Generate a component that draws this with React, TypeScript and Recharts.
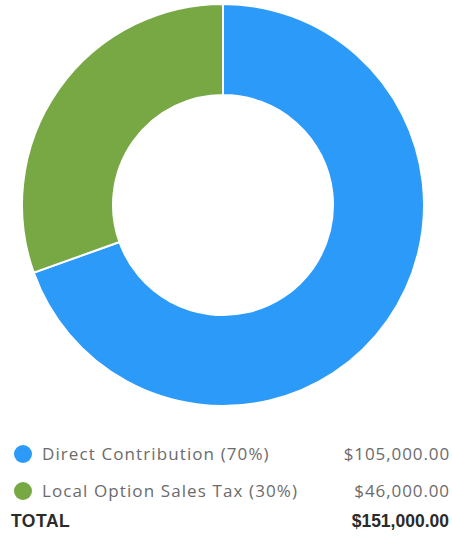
import React from "react";
import { PieChart, Pie, Cell } from "recharts";

const names = ["Direct Contribution", "Local Option Sales Tax"];
const values = [105000, 46000];
const colors = ["#2B9AF9", "#77A843"];
const totalLabel = "TOTAL";

const total = values.reduce((a, b) => a + b, 0);
const data = names.map((n, i) => ({ name: n, value: values[i] }));
const fmt = (v: number) =>
  "$" + v.toLocaleString("en-US", { minimumFractionDigits: 2, maximumFractionDigits: 2 });

const rowCenters = [454, 491];

export default function App() {
  return (
    <div style={{ position: "absolute", left: 0, top: 0, width: 452, height: 536, background: "#fff" }}>
      <PieChart width={452} height={412} margin={{ top: 0, right: 0, bottom: 0, left: 0 }}>
        <Pie
          data={data}
          dataKey="value"
          cx={223}
          cy={205}
          innerRadius={110}
          outerRadius={201}
          startAngle={90}
          endAngle={-270}
          stroke="#ffffff"
          strokeWidth={2}
          isAnimationActive={false}
        >
          {data.map((d, i) => (
            <Cell key={d.name} fill={colors[i]} />
          ))}
        </Pie>
      </PieChart>
      {data.map((d, i) => (
        <div
          key={d.name}
          style={{
            position: "absolute",
            left: 0,
            top: rowCenters[i] - 12,
            width: 449,
            height: 24,
            lineHeight: "24px",
            fontFamily: "'Open Sans', sans-serif",
            fontSize: 17,
            color: "#6b6b6b",
          }}
        >
          <span
            style={{
              position: "absolute",
              left: 14,
              top: 3,
              width: 18,
              height: 18,
              borderRadius: 9,
              background: colors[i],
            }}
          />
          <span style={{ position: "absolute", left: 42, whiteSpace: "nowrap", letterSpacing: "1.1px" }}>
            {d.name} ({Math.round((d.value / total) * 100)}%)
          </span>
          <span style={{ position: "absolute", right: -1, whiteSpace: "nowrap", letterSpacing: "0.9px" }}>
            {fmt(d.value)}
          </span>
        </div>
      ))}
      <div
        style={{
          position: "absolute",
          left: 0,
          top: 521 - 12,
          width: 449,
          height: 24,
          lineHeight: "24px",
          fontFamily: "'Liberation Sans', Arial, sans-serif",
          fontWeight: 700,
          fontSize: 17.5,
          color: "#2b2b2b",
        }}
      >
        <span style={{ position: "absolute", left: 11, letterSpacing: "0.5px" }}>{totalLabel}</span>
        <span style={{ position: "absolute", right: 0 }}>{fmt(total)}</span>
      </div>
    </div>
  );
}
